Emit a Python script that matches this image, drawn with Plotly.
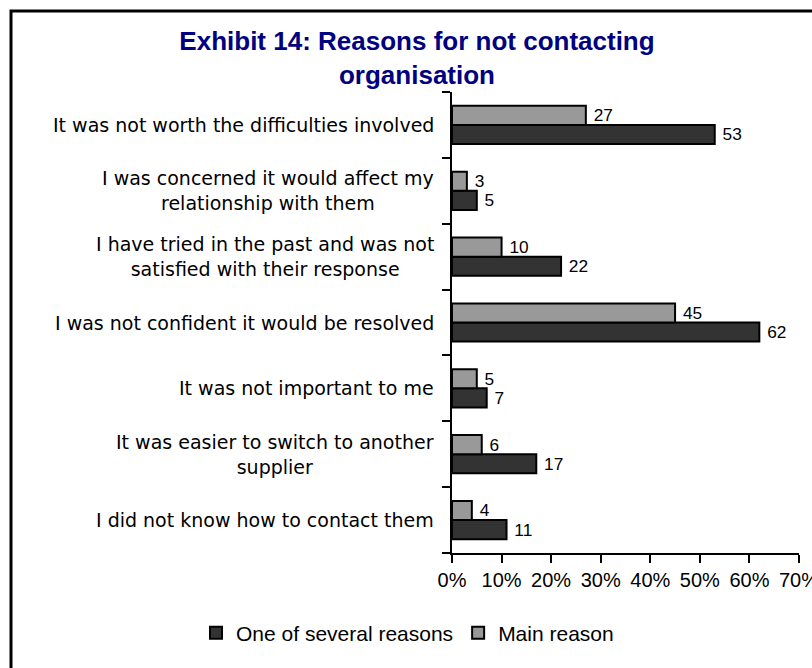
import plotly.graph_objects as go

categories = [
    "It was not worth the difficulties involved",
    "I was concerned it would affect my<br>relationship with them",
    "I have tried in the past and was not<br>satisfied with their response",
    "I was not confident it would be resolved",
    "It was not important to me",
    "It was easier to switch to another<br>supplier",
    "I did not know how to contact them",
]
several_reasons = [53, 5, 22, 62, 7, 17, 11]
main_reason = [27, 3, 10, 45, 5, 6, 4]
x_ticks = [0, 10, 20, 30, 40, 50, 60, 70]

fig = go.Figure()
fig.add_trace(go.Bar(
    y=categories, x=several_reasons, orientation="h", name="One of several reasons",
    marker=dict(color="#333333", line=dict(color="black", width=2)),
    text=[str(v) for v in several_reasons], texttemplate=" %{text}", textposition="outside",
    textfont=dict(family="Liberation Sans, Arial", size=19, color="black"),
    cliponaxis=False,
))
fig.add_trace(go.Bar(
    y=categories, x=main_reason, orientation="h", name="Main reason",
    marker=dict(color="#999999", line=dict(color="black", width=2)),
    text=[str(v) for v in main_reason], texttemplate=" %{text}", textposition="outside",
    textfont=dict(family="Liberation Sans, Arial", size=19, color="black"),
    cliponaxis=False,
))

for c in categories:
    fig.add_annotation(
        x=0, xref="paper", y=c, yref="y", text=c, showarrow=False,
        xanchor="right", xshift=-16, align="center",
        font=dict(family="DejaVu Sans", size=19, color="black"),
    )

fig.add_shape(
    type="rect", xref="paper", yref="paper",
    xsizemode="pixel", ysizemode="pixel", xanchor=0, yanchor=1,
    x0=-441, x1=500, y0=-800, y1=81,
    line=dict(color="black", width=3), fillcolor="rgba(0,0,0,0)", layer="below",
)

fig.update_layout(
    width=812, height=668,
    margin=dict(l=452, r=13, t=92, b=115, autoexpand=False),
    paper_bgcolor="white", plot_bgcolor="white",
    barmode="group", bargap=0.42, bargroupgap=0,
    title=dict(
        text="<b>Exhibit 14: Reasons for not contacting<br>organisation</b>",
        x=417 / 812, xanchor="center", xref="container",
        y=1 - 50 / 668, yanchor="top", yref="container",
        font=dict(family="Liberation Sans, Arial", size=26, color="#000080"),
    ),
    showlegend=True,
    legend=dict(
        orientation="h", xref="paper", x=(196 - 452) / 347, xanchor="left",
        yref="paper", y=-(633 - 553) / 461, yanchor="middle",
        font=dict(family="Liberation Sans, Arial", size=21, color="black"),
        traceorder="normal", itemwidth=30, tracegroupgap=0,
        bgcolor="rgba(0,0,0,0)",
    ),
    xaxis=dict(
        range=[0, 70], tickvals=x_ticks, ticktext=[f"{t}%" for t in x_ticks],
        showgrid=False, zeroline=False, showline=True, linecolor="black", linewidth=2,
        ticks="outside", ticklen=8, tickwidth=2, tickcolor="black",
        tickfont=dict(family="Liberation Sans, Arial", size=20, color="black"),
        ticklabeloverflow="allow", automargin=False,
        fixedrange=True,
    ),
    yaxis=dict(
        categoryorder="array", categoryarray=list(reversed(categories)),
        showticklabels=False, showgrid=False, zeroline=False,
        showline=True, linecolor="black", linewidth=2,
        ticks="outside", tickson="boundaries", ticklen=8, tickwidth=2, tickcolor="black",
        automargin=False, fixedrange=True,
    ),
)

fig.write_html("out.html")
